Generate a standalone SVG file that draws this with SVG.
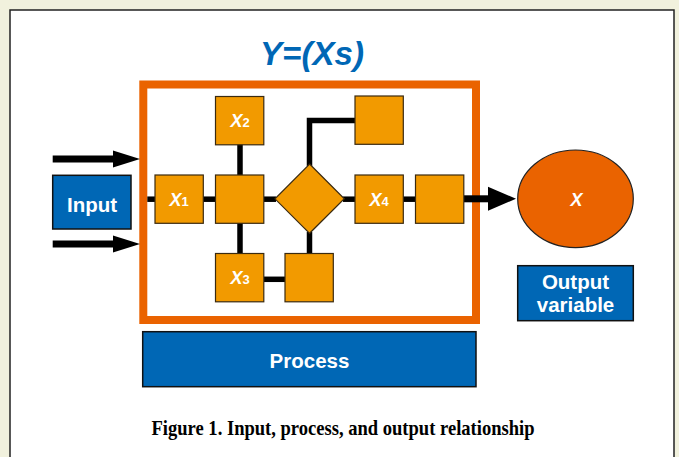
<svg xmlns="http://www.w3.org/2000/svg" width="679" height="457" viewBox="0 0 679 457">
  <style>
    .sq { fill: #f29a00; stroke: #3a2a10; stroke-width: 1.2; }
    .blue { fill: #0067b5; stroke: #111; stroke-width: 1.5; }
    .wt { fill: #fff; font-family: "Liberation Sans", Arial, sans-serif; font-weight: bold; }
    .xl { font-size: 18px; font-style: italic; }
    .sub { font-size: 13px; font-style: normal; }
    .lbl { font-size: 20.5px; }
    .ln { stroke: #000; stroke-width: 5.5; fill: none; }
    .ar { stroke: #000; stroke-width: 7; fill: none; }
  </style>
  <rect x="0" y="0" width="679" height="457" fill="#f1f1dd"/>
  <rect x="10" y="10" width="664" height="460" fill="#fff" stroke="#222" stroke-width="1.5"/>

  <g id="title">
    <text x="312" y="65" text-anchor="middle" font-family="Liberation Sans, Arial, sans-serif" font-weight="bold" font-style="italic" font-size="34" fill="#0067b5" textLength="104" lengthAdjust="spacingAndGlyphs">Y=(Xs)</text>
  </g>

  <g id="process-frame">
    <rect x="143.3" y="84.5" width="332.7" height="235.5" fill="none" stroke="#ea6300" stroke-width="8"/>
  </g>

  <g id="connectors">
    <line class="ar" x1="52.7" y1="159" x2="114" y2="159"/>
    <polygon points="113,150.5 140,159 113,167.5" fill="#000"/>
    <line class="ar" x1="52.7" y1="244" x2="114" y2="244"/>
    <polygon points="113,235.5 140,244 113,252.5" fill="#000"/>
    <line class="ln" x1="147.3" y1="199.2" x2="155" y2="199.2"/>
    <line class="ln" x1="203" y1="199.2" x2="216" y2="199.2"/>
    <line class="ln" x1="264" y1="199.2" x2="276" y2="199.2"/>
    <line class="ln" x1="343" y1="199.2" x2="355" y2="199.2"/>
    <line class="ln" x1="403" y1="199.2" x2="416" y2="199.2"/>
    <line class="ln" x1="240" y1="144" x2="240" y2="176"/>
    <line class="ln" x1="240" y1="223" x2="240" y2="254"/>
    <line class="ln" x1="264" y1="279.3" x2="285" y2="279.3"/>
    <line class="ln" x1="309.5" y1="232" x2="309.5" y2="254"/>
    <polyline class="ln" points="309.5,166 309.5,120.5 355,120.5"/>
    <line class="ar" x1="464" y1="198.8" x2="489" y2="198.8"/>
    <polygon points="488,186.8 516,198.8 488,210.8" fill="#000"/>
  </g>

  <g id="input">
    <rect class="blue" x="52.7" y="175.3" width="78.3" height="53.7"/>
    <text class="wt lbl" x="92" y="211.7" text-anchor="middle">Input</text>
  </g>

  <g id="x1">
    <rect class="sq" x="155" y="175" width="48.3" height="48.3"/>
    <text class="wt xl" x="179" y="205.7" text-anchor="middle">X<tspan class="sub">1</tspan></text>
  </g>
  <g id="hub">
    <rect class="sq" x="215.5" y="175" width="48.3" height="48.3"/>
  </g>
  <g id="x2">
    <rect class="sq" x="215.5" y="96.5" width="48.3" height="48.3"/>
    <text class="wt xl" x="240" y="127" text-anchor="middle">X<tspan class="sub">2</tspan></text>
  </g>
  <g id="x3">
    <rect class="sq" x="215.5" y="253.5" width="48.3" height="48.3"/>
    <text class="wt xl" x="240" y="284" text-anchor="middle">X<tspan class="sub">3</tspan></text>
  </g>
  <g id="box-b3">
    <rect class="sq" x="285" y="253.5" width="48.3" height="48.3"/>
  </g>
  <g id="decision">
    <polygon class="sq" points="309.6,164 344.3,198.8 309.6,233.3 275,198.8"/>
  </g>
  <g id="box-top">
    <rect class="sq" x="355" y="96" width="48.3" height="48.3"/>
  </g>
  <g id="x4">
    <rect class="sq" x="355" y="175" width="48.3" height="48.3"/>
    <text class="wt xl" x="379" y="205.7" text-anchor="middle">X<tspan class="sub">4</tspan></text>
  </g>
  <g id="box-last">
    <rect class="sq" x="415.5" y="175" width="48.3" height="48.3"/>
  </g>

  <g id="output-x">
    <ellipse cx="575.5" cy="198.8" rx="57.8" ry="48.8" fill="#ea6300" stroke="#222" stroke-width="1.2"/>
    <text class="wt" x="576.5" y="205.7" text-anchor="middle" font-size="18" font-style="italic">X</text>
  </g>

  <g id="output-variable">
    <rect class="blue" x="517.7" y="265.7" width="115.6" height="55"/>
    <text class="wt lbl" x="575.5" y="289" text-anchor="middle">Output</text>
    <text class="wt lbl" x="575.5" y="312" text-anchor="middle">variable</text>
  </g>

  <g id="process">
    <rect class="blue" x="142.7" y="331.7" width="333.3" height="55"/>
    <text class="wt lbl" x="309.5" y="368.3" text-anchor="middle">Process</text>
  </g>

  <g id="caption">
    <text x="343" y="435" text-anchor="middle" font-family="Liberation Serif, 'Times New Roman', serif" font-weight="bold" font-size="21" fill="#000" textLength="383" lengthAdjust="spacingAndGlyphs">Figure 1. Input, process, and output relationship</text>
  </g>
</svg>
